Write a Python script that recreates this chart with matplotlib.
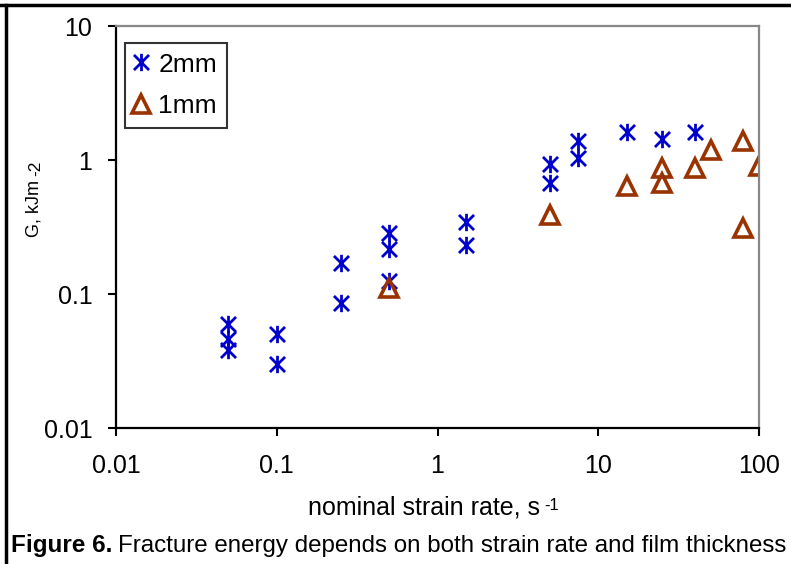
import numpy as np
import matplotlib
matplotlib.use("Agg")
import matplotlib.pyplot as plt
from matplotlib.path import Path
from matplotlib.lines import Line2D

plt.rcParams["font.family"] = ["Liberation Sans", "DejaVu Sans"]

# strain rate (1/s) and fracture energy G (kJ/m2)
rate_2mm = [0.05, 0.05, 0.05, 0.1, 0.1, 0.25, 0.25, 0.5, 0.5, 0.5,
            1.5, 1.5, 5, 5, 7.5, 7.5, 15, 25, 40]
g_2mm = [0.060, 0.046, 0.038, 0.050, 0.030, 0.171, 0.086, 0.284, 0.216, 0.124,
         0.343, 0.232, 0.93, 0.67, 1.38, 1.03, 1.61, 1.43, 1.62]

rate_1mm = [0.5, 5, 15, 25, 25, 40, 50, 80, 80, 100]
g_1mm = [0.111, 0.389, 0.64, 0.867, 0.67, 0.867, 1.19, 1.39, 0.309, 0.906]

x_ticks = [0.01, 0.1, 1, 10, 100]
x_labels = ["0.01", "0.1", "1", "10", "100"]
y_ticks = [0.01, 0.1, 1, 10]
y_labels = ["0.01", "0.1", "1", "10"]

# excel style asterisk: an x with a vertical bar
star = Path(
    [(-1, -1), (1, 1), (-1, 1), (1, -1), (0, -1.15), (0, 1.15)],
    [Path.MOVETO, Path.LINETO, Path.MOVETO, Path.LINETO, Path.MOVETO, Path.LINETO],
)

fig = plt.figure(figsize=(7.91, 5.64), dpi=100)
ax = fig.add_axes([0.1466, 0.2411, 0.8130, 0.7128])

ax.plot(rate_2mm, g_2mm, linestyle="none", marker=star, markersize=12.5,
        markeredgewidth=2.0, color="#0000cc", label="2mm")
ax.plot(rate_1mm, g_1mm, linestyle="none", marker="^", markersize=13,
        markeredgewidth=2.6, markerfacecolor="none", markeredgecolor="#993300",
        label="1mm")

ax.set_xscale("log")
ax.set_yscale("log")
ax.set_xlim(0.01, 100)
ax.set_ylim(0.01, 10)
ax.set_xticks(x_ticks)
ax.set_xticklabels(x_labels)
ax.set_yticks(y_ticks)
ax.set_yticklabels(y_labels)
ax.minorticks_off()
ax.tick_params(axis="both", direction="out", length=6, width=1.5,
               labelsize=18, color="black")
ax.tick_params(axis="y", pad=11)
ax.tick_params(axis="x", pad=13)

for side in ["left", "bottom"]:
    ax.spines[side].set_color("black")
    ax.spines[side].set_linewidth(1.6)
for side in ["top", "right"]:
    ax.spines[side].set_color("#888888")
    ax.spines[side].set_linewidth(1.6)

ax.set_xlabel("nominal strain rate, s", fontsize=18, va="top")
ax.xaxis.set_label_coords(0.479, -0.167)
ax.set_ylabel("G, kJm", fontsize=13)
ax.yaxis.set_label_coords(-0.114, 0.546)

# superscripts hang off the axis titles
ax.annotate("-1", xy=(1, 1), xycoords=ax.xaxis.label, xytext=(3, -2),
            textcoords="offset points", fontsize=12, ha="left", va="top")
ax.annotate("-2", xy=(0, 1), xycoords=ax.yaxis.label, xytext=(2, 3),
            textcoords="offset points", fontsize=12.5, ha="left", va="bottom",
            rotation=90)

leg = ax.legend(loc="upper left", bbox_to_anchor=(0.0140, 0.958), fontsize=19,
                frameon=True, fancybox=False, handletextpad=0.45,
                handlelength=0.45, borderpad=0.37, labelspacing=0.67,
                borderaxespad=0)
leg.get_frame().set_edgecolor("black")
leg.get_frame().set_linewidth(1.5)

fig.text(0.014, 0.021, "Figure 6.", fontsize=17.5, fontweight="bold",
         ha="left", va="baseline")
fig.text(0.149, 0.021, "Fracture energy depends on both strain rate and film thickness",
         fontsize=17.4, ha="left", va="baseline")

# outer frame of the figure panel
fig.add_artist(Line2D([0, 1], [0.991, 0.991], color="black", linewidth=2.5,
                      transform=fig.transFigure))
fig.add_artist(Line2D([0.008, 0.008], [0, 0.991], color="black", linewidth=2.5,
                      transform=fig.transFigure))

fig.savefig("out.png", dpi=100)
